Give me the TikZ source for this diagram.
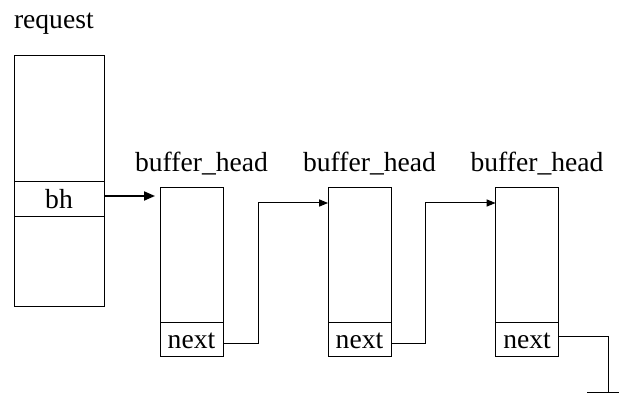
\documentclass[tikz,border=0pt]{standalone}
\usepackage{fontspec}
\setmainfont{Liberation Serif}
\usetikzlibrary{arrows.meta}
\begin{document}
\begin{tikzpicture}[x=0.5pt,y=-0.5pt,
  every node/.style={font=\fontsize{13.8}{16}\selectfont, inner sep=0pt, outer sep=0pt},
  cell/.style={draw, line width=0.5pt, rectangle},
  label/.style={text=black},
  link/.style={line width=0.5pt, -{Triangle[length=4.5pt,width=3.6pt]}},
  bigarrow/.style={line width=1pt, -{Triangle[length=5.5pt,width=4.5pt]}},
  wire/.style={line width=0.5pt}]
\useasboundingbox (0,0) rectangle (620,405);

% request structure
\node[label, anchor=base west] (reqlbl) at (14,29) {request};
\node[cell, minimum width=45pt, minimum height=125.5pt] (req) at (59,181.5) {};
\node[cell, minimum width=45pt, minimum height=17.5pt] (bh) at (59,199.5) {bh};

% buffer_head blocks
\foreach \i/\x in {1/191.5, 2/359.5, 3/527} {
  \node[cell, minimum width=31.5pt, minimum height=84pt] (buf\i) at (\x,272) {};
  \node[cell, minimum width=31.5pt, minimum height=17pt] (next\i) at (\x,339) {};
  \node[label] (ntxt\i) at (\x,340.5) {next};
  \node[label] (lbl\i) at (\x+10,164) {buffer\_head};
}

% pointers
\coordinate (tip1) at (155,196);
\draw[bigarrow] (bh.east |- tip1) -- (tip1);

\coordinate (j1a) at (258,343);
\coordinate (j1b) at (258,203);
\draw[link] (next1.east |- j1a) -- (j1a) -- (j1b) -- (buf2.west |- j1b);

\coordinate (j2a) at (425,343);
\coordinate (j2b) at (425,203);
\draw[link] (next2.east |- j2a) -- (j2a) -- (j2b) -- (buf3.west |- j2b);

% null terminator
\coordinate (j3a) at (608,336);
\coordinate (gnd) at (608,392);
\coordinate (gl) at (587,392);
\coordinate (gr) at (619,392);
\draw[wire] (next3.east |- j3a) -- (j3a) -- (gnd);
\draw[wire] (gl) -- (gr);
\end{tikzpicture}
\end{document}
